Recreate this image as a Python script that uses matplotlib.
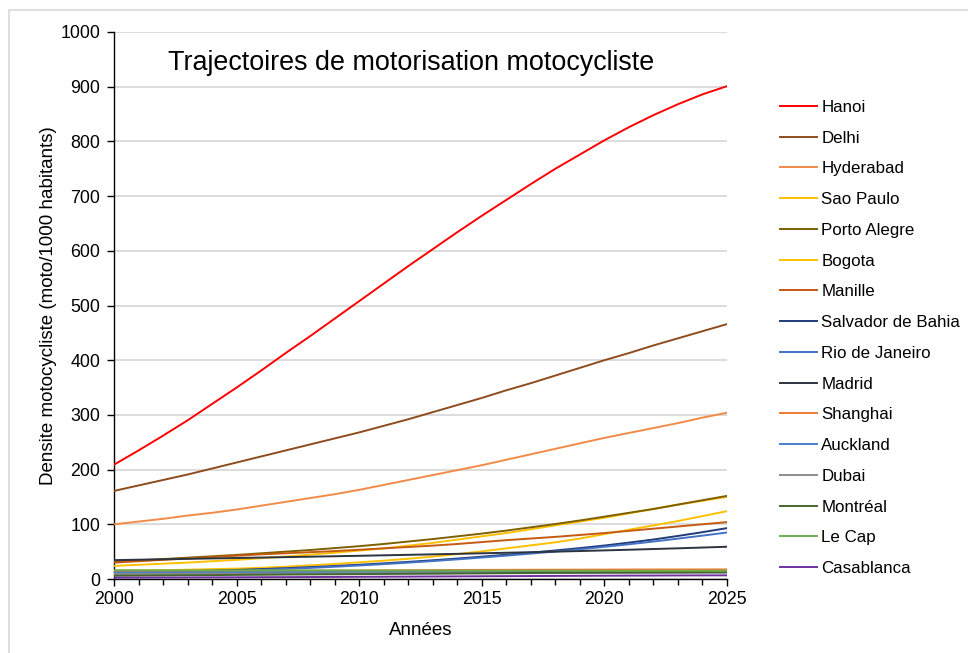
import matplotlib
matplotlib.use("Agg")
import matplotlib.pyplot as plt
from matplotlib.ticker import MultipleLocator
from matplotlib.patches import Rectangle

plt.rcParams['font.family'] = ['Liberation Sans', 'DejaVu Sans']

years = list(range(2000, 2026))

hanoi = [209, 235, 262, 290, 320, 350, 381, 413, 444, 476, 508, 540, 572, 603, 634,
         664, 693, 722, 750, 776, 802, 826, 848, 868, 886, 901]
delhi = [161, 171, 181, 191, 202, 213, 224, 235, 246, 257, 268, 280, 292, 305, 318,
         331, 345, 358, 372, 386, 400, 413, 427, 440, 453, 466]
hyderabad = [100, 105, 110, 116, 121, 127, 134, 141, 148, 155, 163, 172, 181, 190, 199,
             208, 218, 228, 238, 248, 258, 267, 276, 285, 295, 304]
sao_paulo = [24, 26, 28, 30, 32.5, 35, 38, 41, 44.5, 48, 52, 56, 61, 66, 72,
             78, 84, 91, 98, 105, 112, 120, 128, 136, 143, 150]
porto_alegre = [32, 34, 36.5, 39, 41.5, 44, 47, 50, 53, 56.5, 60, 64, 68.5, 73, 78,
                83, 88.5, 94.5, 100.5, 107, 114, 121, 128, 136, 144, 152]
bogota = [15, 15.5, 16, 17, 18, 19, 20.5, 22.5, 25, 27.5, 30.5, 33.5, 37, 41, 45.5,
          50.5, 56, 61.5, 67, 74, 82, 90, 98, 106, 115, 124]
manille = [30, 32.5, 35, 37.5, 40, 42.5, 45, 47, 49, 51, 53.5, 56, 58.5, 61, 64,
           67.5, 71, 74, 77, 80.5, 84, 88, 92, 96, 100, 104]
salvador = [12, 12.6, 13.3, 14.2, 15.3, 16.6, 18.1, 19.8, 21.7, 23.8, 26.1, 28.6, 31.3,
            34.2, 37.4, 40.8, 44.4, 48.2, 52.2, 56.5, 61.2, 66.5, 72.2, 78.7, 85.6, 93]
rio = [10.5, 11.1, 11.9, 12.8, 13.9, 15.2, 16.7, 18.4, 20.3, 22.4, 24.7, 27.2, 29.9,
       32.8, 35.9, 39.2, 42.7, 46.4, 50.3, 54.4, 58.8, 63.5, 68.5, 73.8, 79.3, 85]
madrid = [34.5, 35.3, 36, 36.8, 37.6, 38.4, 39.2, 40, 40.8, 41.6, 42.4, 43.3, 44.2,
          45.1, 46, 47, 48, 49, 50, 51.1, 52.3, 53.5, 54.8, 56.1, 57.5, 59]
shanghai = [13, 13.3, 13.6, 13.9, 14.2, 14.5, 14.8, 15, 15.3, 15.5, 15.7, 15.9, 16.1,
            16.3, 16.5, 16.7, 16.8, 16.9, 17, 17.1, 17.2, 17.3, 17.4, 17.4, 17.5, 17.5]
auckland = [12, 12.1, 12.2, 12.3, 12.4, 12.5, 12.6, 12.7, 12.8, 12.9, 13, 13, 13.1,
            13.1, 13.2, 13.2, 13.3, 13.3, 13.4, 13.4, 13.5, 13.5, 13.5, 13.6, 13.6, 13.6]
dubai = [9, 9.1, 9.2, 9.3, 9.4, 9.5, 9.6, 9.7, 9.8, 9.9, 10, 10.1, 10.2, 10.3, 10.4,
         10.5, 10.6, 10.7, 10.8, 10.9, 11, 11, 11.1, 11.1, 11.2, 11.2]
montreal = [6, 6.3, 6.6, 6.9, 7.2, 7.5, 7.8, 8.1, 8.4, 8.7, 9, 9.3, 9.6, 9.9, 10.2,
            10.5, 10.8, 11.1, 11.4, 11.7, 12, 12.2, 12.4, 12.6, 12.8, 13]
le_cap = [16, 16, 15.9, 15.9, 15.8, 15.8, 15.7, 15.7, 15.6, 15.6, 15.5, 15.5, 15.4,
          15.4, 15.3, 15.3, 15.2, 15.2, 15.1, 15.1, 15.1, 15, 15, 15, 15, 15]
casablanca = [2.5, 2.6, 2.7, 2.8, 3, 3.1, 3.3, 3.4, 3.6, 3.8, 4, 4.2, 4.4, 4.6, 4.8,
              5, 5.2, 5.4, 5.6, 5.8, 6, 6.2, 6.3, 6.5, 6.6, 6.7]

series_names = ["Hanoi", "Delhi", "Hyderabad", "Sao Paulo", "Porto Alegre", "Bogota",
                "Manille", "Salvador de Bahia", "Rio de Janeiro", "Madrid", "Shanghai",
                "Auckland", "Dubai", "Montréal", "Le Cap", "Casablanca"]
series_values = [hanoi, delhi, hyderabad, sao_paulo, porto_alegre, bogota, manille,
                 salvador, rio, madrid, shanghai, auckland, dubai, montreal, le_cap,
                 casablanca]
series_colors = ["#FF0000", "#8E4B1E", "#F28B47", "#FFC000", "#7F6000", "#FFC000",
                 "#C55A11", "#203B78", "#4472C4", "#2B3440", "#ED7D31", "#4A7CC9",
                 "#8C8C8C", "#44652C", "#70AD47", "#7030A0"]

fig = plt.figure(figsize=(9.68, 6.53), dpi=100)
ax = fig.add_axes([114/968, 1 - 579/653, (727 - 114)/968, (579 - 32)/653])

# chart-area border (only left and top edges visible in the image)
fig.patches.append(Rectangle((9/968, -0.1), 1.2, 1.1 - 10/653,
                             transform=fig.transFigure, fill=False,
                             edgecolor="#D9D9D9", linewidth=1.2))

for name, vals, col in zip(series_names, series_values, series_colors):
    ax.plot(years, vals, color=col, lw=1.4, label=name, zorder=3)

ax.set_xlim(2000, 2025)
ax.set_ylim(0, 1000)
ax.xaxis.set_major_locator(MultipleLocator(5))
ax.xaxis.set_minor_locator(MultipleLocator(1))
ax.yaxis.set_major_locator(MultipleLocator(100))
ax.yaxis.grid(True, color="#D9D9D9", lw=1.3, zorder=0)
ax.set_axisbelow(True)
for s in ("top", "right"):
    ax.spines[s].set_visible(False)
for s in ("left", "bottom"):
    ax.spines[s].set_color("black")
    ax.spines[s].set_linewidth(1.0)
ax.tick_params(axis="both", which="major", direction="out", length=5, width=1,
               labelsize=12.8, colors="black")
ax.tick_params(axis="x", which="minor", direction="out", length=4, width=1)
ax.tick_params(axis="x", which="major", pad=4)
ax.tick_params(axis="y", which="major", pad=5)

ax.set_xlabel("Années", fontsize=13.5, labelpad=10)
ax.set_ylabel("Densite motocycliste (moto/1000 habitants)", fontsize=13.5, labelpad=2)

ax.text(0.485, 0.967, "Trajectoires de motorisation motocycliste", transform=ax.transAxes,
        ha="center", va="top", fontsize=19.4)

fig.legend(loc="upper left", bbox_to_anchor=(773/968, 1 - 93/653), frameon=False,
           fontsize=12.2, handlelength=2.2, handletextpad=0.25, labelspacing=0.93,
           borderaxespad=0)

fig.savefig("out.png", dpi=100)
